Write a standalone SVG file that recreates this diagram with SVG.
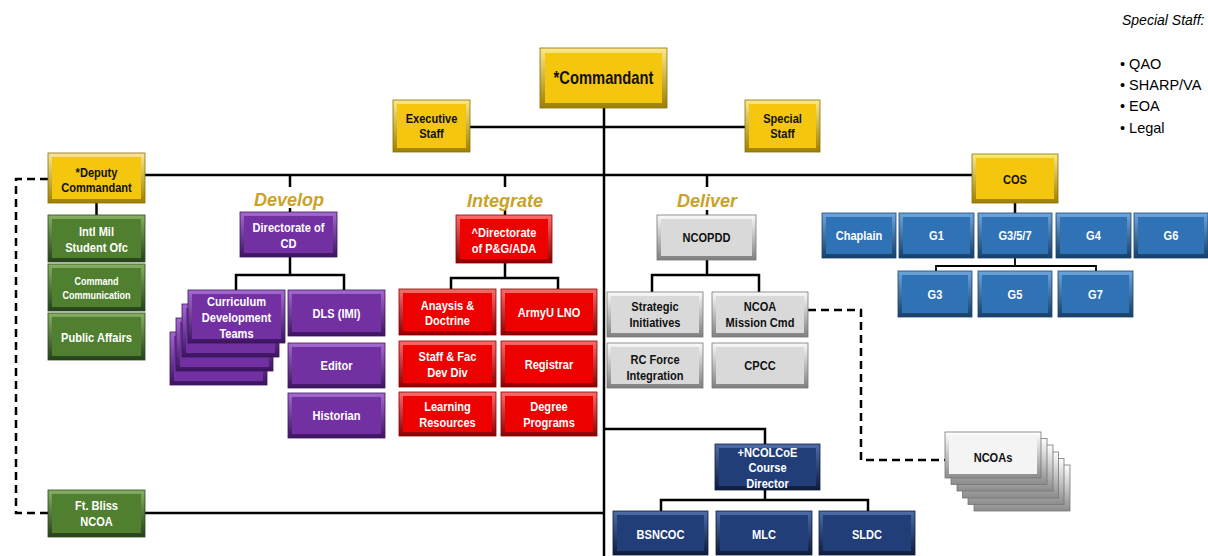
<svg xmlns="http://www.w3.org/2000/svg" width="1208" height="556" viewBox="0 0 1208 556">
<defs>
<linearGradient id="gy" x1="0" y1="0" x2="0" y2="1"><stop offset="0" stop-color="#FCE88A"/><stop offset="1" stop-color="#9E7F00"/></linearGradient>
<linearGradient id="gg" x1="0" y1="0" x2="0" y2="1"><stop offset="0" stop-color="#86B061"/><stop offset="1" stop-color="#24401A"/></linearGradient>
<linearGradient id="gp" x1="0" y1="0" x2="0" y2="1"><stop offset="0" stop-color="#A46AD0"/><stop offset="1" stop-color="#3C1460"/></linearGradient>
<linearGradient id="gr" x1="0" y1="0" x2="0" y2="1"><stop offset="0" stop-color="#FF6A6A"/><stop offset="1" stop-color="#8A0000"/></linearGradient>
<linearGradient id="gs" x1="0" y1="0" x2="0" y2="1"><stop offset="0" stop-color="#FAFAFA"/><stop offset="1" stop-color="#7F7F7F"/></linearGradient>
<linearGradient id="gb" x1="0" y1="0" x2="0" y2="1"><stop offset="0" stop-color="#6EA6DC"/><stop offset="1" stop-color="#173F68"/></linearGradient>
<linearGradient id="gn" x1="0" y1="0" x2="0" y2="1"><stop offset="0" stop-color="#4D6DAA"/><stop offset="1" stop-color="#0E1C3C"/></linearGradient>
<linearGradient id="gw" x1="0" y1="0" x2="0" y2="1"><stop offset="0" stop-color="#FFFFFF"/><stop offset="1" stop-color="#8C8C8C"/></linearGradient>
</defs>
<style>
.yo{fill:url(#gy);stroke:#8A7000;stroke-width:0.8}.yi{fill:#F4C60E}
.go{fill:url(#gg);stroke:#2B4A1C;stroke-width:0.8}.gi{fill:#4F7F2F}
.po{fill:url(#gp);stroke:#3C1460;stroke-width:0.8}.pi{fill:#7330A3}
.ro{fill:url(#gr);stroke:#8A0000;stroke-width:0.8}.ri{fill:#EE0000}
.so{fill:url(#gs);stroke:#777;stroke-width:0.8}.si{fill:#D9D9D9}
.bo{fill:url(#gb);stroke:#1B4470;stroke-width:0.8}.bi{fill:#2F72B5}
.no{fill:url(#gn);stroke:#0E1C3C;stroke-width:0.8}.ni{fill:#213E78}
.wo{fill:url(#gw);stroke:#777;stroke-width:0.8}.wi{fill:#F4F4F4}
.t{font-family:"Liberation Sans",Arial,sans-serif;font-weight:bold;font-size:13.5px;text-anchor:middle}
.w{fill:#FFFFFF}.k{fill:#111111}
.sec{font-family:"Liberation Sans",Arial,sans-serif;font-weight:bold;font-style:italic;font-size:18px;fill:#C9A227;text-anchor:middle}
.ln{fill:none;stroke:#000;stroke-width:2.5}
.ls{fill:none;stroke:#000;stroke-width:1.8}
.ds{fill:none;stroke:#000;stroke-width:2.5;stroke-dasharray:8 5}
.ss{font-family:"Liberation Sans",Arial,sans-serif;font-size:14.5px;fill:#000}
</style>

<g id="connectors">
<path class="ln" d="M604,108 V556"/>
<path class="ln" d="M470,127 H745"/>
<path class="ln" d="M145,175 H972"/>
<path class="ln" d="M96.5,203 V215"/>
<path class="ln" d="M290,175 V187 M290,208 V212"/>
<path class="ln" d="M290,257 V275 M236,290 V275 H344 V290"/>
<path class="ln" d="M505,175 V187 M505,210 V215"/>
<path class="ln" d="M505,263 V278 M451,289 V278 H558 V289"/>
<path class="ln" d="M707,175 V187 M707,210 V215"/>
<path class="ln" d="M707,260 V275 M652,292 V275 H759 V292"/>
<path class="ln" d="M1015,203 V213"/>
<path class="ls" d="M1015,258 V266 M936,271 V266 H1096 V271"/>
<path class="ln" d="M604,429 H765 V444"/>
<path class="ln" d="M765,490 V500 M661,511 V500 H868 V511"/>
<path class="ln" d="M145,513 H604"/>
<path class="ds" d="M48,179 H16 V513 H48"/>
<path class="ds" d="M808,310 H861 V460 H945"/>
</g>

<g id="commandant"><rect class="yo" x="540" y="48" width="127" height="60"/><rect class="yi" x="545" y="53" width="117" height="50"/><g transform="matrix(0.82 0 0 1 108.63 0)"><text class="t k" x="603.5" y="84.5" style="font-size:18px">*Commandant</text></g></g>
<g id="executive-staff"><rect class="yo" x="393" y="100" width="77" height="52"/><rect class="yi" x="397" y="104" width="69" height="44"/><g transform="matrix(0.82 0 0 1 77.67 0)"><text class="t k" x="431.5" y="123">Executive</text><text class="t k" x="431.5" y="138.5">Staff</text></g></g>
<g id="special-staff"><rect class="yo" x="745" y="100" width="75" height="52"/><rect class="yi" x="749" y="104" width="67" height="44"/><g transform="matrix(0.82 0 0 1 140.85 0)"><text class="t k" x="782.5" y="123">Special</text><text class="t k" x="782.5" y="138.5">Staff</text></g></g>

<g id="deputy-commandant"><rect class="yo" x="48" y="153" width="97" height="50"/><rect class="yi" x="52" y="157" width="89" height="42"/><g transform="matrix(0.82 0 0 1 17.37 0)"><text class="t k" x="96.5" y="177">*Deputy</text><text class="t k" x="96.5" y="192.5">Commandant</text></g></g>
<g id="intl-mil"><rect class="go" x="48" y="215" width="97" height="47"/><rect class="gi" x="52" y="219" width="89" height="39"/><g transform="matrix(0.82 0 0 1 17.37 0)"><text class="t w" x="96.5" y="236.5">Intl Mil</text><text class="t w" x="96.5" y="252.5">Student Ofc</text></g></g>
<g id="command-communication"><rect class="go" x="48" y="264" width="97" height="47"/><rect class="gi" x="52" y="268" width="89" height="39"/><g transform="matrix(0.82 0 0 1 17.37 0)"><text class="t w" x="96.5" y="285" style="font-size:11px">Command</text><text class="t w" x="96.5" y="299.5" style="font-size:11px">Communication</text></g></g>
<g id="public-affairs"><rect class="go" x="48" y="313" width="97" height="47"/><rect class="gi" x="52" y="317" width="89" height="39"/><g transform="matrix(0.82 0 0 1 17.37 0)"><text class="t w" x="96.5" y="342.5">Public Affairs</text></g></g>
<g id="ft-bliss"><rect class="go" x="48" y="490" width="97" height="47"/><rect class="gi" x="52" y="494" width="89" height="39"/><g transform="matrix(0.82 0 0 1 17.37 0)"><text class="t w" x="96.5" y="510.5">Ft. Bliss</text><text class="t w" x="96.5" y="526.5">NCOA</text></g></g>

<g id="develop-label"><text class="sec" x="289" y="206">Develop</text></g>
<g id="directorate-cd"><rect class="po" x="240" y="212" width="97" height="45"/><rect class="pi" x="244" y="216" width="89" height="37"/><g transform="matrix(0.82 0 0 1 51.93 0)"><text class="t w" x="288.5" y="232.5">Directorate of</text><text class="t w" x="288.5" y="248">CD</text></g></g>
<g id="curriculum-teams">
<rect class="po" x="170" y="332" width="97" height="53"/><rect class="pi" x="174" y="336" width="89" height="45"/>
<rect class="po" x="176" y="318" width="97" height="53"/><rect class="pi" x="180" y="322" width="89" height="45"/>
<rect class="po" x="182" y="304" width="97" height="53"/><rect class="pi" x="186" y="308" width="89" height="45"/>
<rect class="po" x="188" y="290" width="97" height="53"/><rect class="pi" x="192" y="294" width="89" height="45"/>
<g transform="matrix(0.82 0 0 1 42.57 0)"><text class="t w" x="236.5" y="306.5">Curriculum</text><text class="t w" x="236.5" y="322.5">Development</text><text class="t w" x="236.5" y="338.5">Teams</text></g></g>
<g id="dls"><rect class="po" x="288" y="290" width="97" height="46"/><rect class="pi" x="292" y="294" width="89" height="38"/><g transform="matrix(0.82 0 0 1 60.57 0)"><text class="t w" x="336.5" y="318">DLS (IMI)</text></g></g>
<g id="editor"><rect class="po" x="288" y="343" width="97" height="45"/><rect class="pi" x="292" y="347" width="89" height="37"/><g transform="matrix(0.82 0 0 1 60.57 0)"><text class="t w" x="336.5" y="370.5">Editor</text></g></g>
<g id="historian"><rect class="po" x="288" y="393" width="97" height="45"/><rect class="pi" x="292" y="397" width="89" height="37"/><g transform="matrix(0.82 0 0 1 60.57 0)"><text class="t w" x="336.5" y="420.5">Historian</text></g></g>

<g id="integrate-label"><text class="sec" x="505" y="207">Integrate</text></g>
<g id="directorate-pg"><rect class="ro" x="456" y="215" width="96" height="48"/><rect class="ri" x="460" y="219" width="88" height="40"/><g transform="matrix(0.82 0 0 1 90.72 0)"><text class="t w" x="504" y="237.5">^Directorate</text><text class="t w" x="504" y="253">of P&amp;G/ADA</text></g></g>
<g id="analysis-doctrine"><rect class="ro" x="399" y="289" width="97" height="46"/><rect class="ri" x="403" y="293" width="89" height="38"/><g transform="matrix(0.82 0 0 1 80.55 0)"><text class="t w" x="447.5" y="310">Anaysis &amp;</text><text class="t w" x="447.5" y="325.5">Doctrine</text></g></g>
<g id="armyu-lno"><rect class="ro" x="501" y="289" width="96" height="46"/><rect class="ri" x="505" y="293" width="88" height="38"/><g transform="matrix(0.82 0 0 1 98.82 0)"><text class="t w" x="549" y="317">ArmyU LNO</text></g></g>
<g id="staff-fac"><rect class="ro" x="399" y="341" width="97" height="46"/><rect class="ri" x="403" y="345" width="89" height="38"/><g transform="matrix(0.82 0 0 1 80.55 0)"><text class="t w" x="447.5" y="361.5">Staff &amp; Fac</text><text class="t w" x="447.5" y="377.5">Dev Div</text></g></g>
<g id="registrar"><rect class="ro" x="501" y="341" width="96" height="46"/><rect class="ri" x="505" y="345" width="88" height="38"/><g transform="matrix(0.82 0 0 1 98.82 0)"><text class="t w" x="549" y="369">Registrar</text></g></g>
<g id="learning-resources"><rect class="ro" x="399" y="392" width="97" height="44"/><rect class="ri" x="403" y="396" width="89" height="36"/><g transform="matrix(0.82 0 0 1 80.55 0)"><text class="t w" x="447.5" y="411.5">Learning</text><text class="t w" x="447.5" y="427">Resources</text></g></g>
<g id="degree-programs"><rect class="ro" x="501" y="392" width="96" height="44"/><rect class="ri" x="505" y="396" width="88" height="36"/><g transform="matrix(0.82 0 0 1 98.82 0)"><text class="t w" x="549" y="411.5">Degree</text><text class="t w" x="549" y="427">Programs</text></g></g>

<g id="deliver-label"><text class="sec" x="707" y="207">Deliver</text></g>
<g id="ncopdd"><rect class="so" x="657" y="215" width="99" height="45"/><rect class="si" x="661" y="219" width="91" height="37"/><g transform="matrix(0.82 0 0 1 127.17 0)"><text class="t k" x="706.5" y="242.5">NCOPDD</text></g></g>
<g id="strategic-initiatives"><rect class="so" x="607" y="292" width="96" height="45"/><rect class="si" x="611" y="296" width="88" height="37"/><g transform="matrix(0.82 0 0 1 117.9 0)"><text class="t k" x="655" y="311.5">Strategic</text><text class="t k" x="655" y="327.5">Initiatives</text></g></g>
<g id="ncoa-mission-cmd"><rect class="so" x="712" y="292" width="96" height="45"/><rect class="si" x="716" y="296" width="88" height="37"/><g transform="matrix(0.82 0 0 1 136.8 0)"><text class="t k" x="760" y="311.5">NCOA</text><text class="t k" x="760" y="327.5">Mission Cmd</text></g></g>
<g id="rc-force"><rect class="so" x="607" y="343" width="96" height="45"/><rect class="si" x="611" y="347" width="88" height="37"/><g transform="matrix(0.82 0 0 1 117.9 0)"><text class="t k" x="655" y="364.5">RC Force</text><text class="t k" x="655" y="380">Integration</text></g></g>
<g id="cpcc"><rect class="so" x="712" y="343" width="96" height="45"/><rect class="si" x="716" y="347" width="88" height="37"/><g transform="matrix(0.82 0 0 1 136.8 0)"><text class="t k" x="760" y="370.5">CPCC</text></g></g>

<g id="cos"><rect class="yo" x="972" y="154" width="86" height="49"/><rect class="yi" x="976" y="158" width="78" height="41"/><g transform="matrix(0.82 0 0 1 182.7 0)"><text class="t k" x="1015" y="184">COS</text></g></g>
<g id="chaplain"><rect class="bo" x="822" y="213" width="74" height="45"/><rect class="bi" x="826" y="217" width="66" height="37"/><g transform="matrix(0.82 0 0 1 154.62 0)"><text class="t w" x="859" y="240.5">Chaplain</text></g></g>
<g id="g1"><rect class="bo" x="899" y="213" width="75" height="45"/><rect class="bi" x="903" y="217" width="67" height="37"/><g transform="matrix(0.82 0 0 1 168.57 0)"><text class="t w" x="936.5" y="240.5">G1</text></g></g>
<g id="g357"><rect class="bo" x="978" y="213" width="74" height="45"/><rect class="bi" x="982" y="217" width="66" height="37"/><g transform="matrix(0.82 0 0 1 182.7 0)"><text class="t w" x="1015" y="240.5">G3/5/7</text></g></g>
<g id="g4"><rect class="bo" x="1056" y="213" width="75" height="45"/><rect class="bi" x="1060" y="217" width="67" height="37"/><g transform="matrix(0.82 0 0 1 196.83 0)"><text class="t w" x="1093.5" y="240.5">G4</text></g></g>
<g id="g6"><rect class="bo" x="1134" y="213" width="74" height="45"/><rect class="bi" x="1138" y="217" width="66" height="37"/><g transform="matrix(0.82 0 0 1 210.78 0)"><text class="t w" x="1171" y="240.5">G6</text></g></g>
<g id="g3"><rect class="bo" x="898" y="271" width="74" height="46"/><rect class="bi" x="902" y="275" width="66" height="38"/><g transform="matrix(0.82 0 0 1 168.3 0)"><text class="t w" x="935" y="299">G3</text></g></g>
<g id="g5"><rect class="bo" x="978" y="271" width="74" height="46"/><rect class="bi" x="982" y="275" width="66" height="38"/><g transform="matrix(0.82 0 0 1 182.7 0)"><text class="t w" x="1015" y="299">G5</text></g></g>
<g id="g7"><rect class="bo" x="1058" y="271" width="75" height="46"/><rect class="bi" x="1062" y="275" width="67" height="38"/><g transform="matrix(0.82 0 0 1 197.19 0)"><text class="t w" x="1095.5" y="299">G7</text></g></g>

<g id="ncolcoe"><rect class="no" x="715" y="444" width="105" height="46"/><rect class="ni" x="719" y="448" width="97" height="38"/><g transform="matrix(0.82 0 0 1 138.15 0)"><text class="t w" x="767.5" y="457">+NCOLCoE</text><text class="t w" x="767.5" y="472.5">Course</text><text class="t w" x="767.5" y="488">Director</text></g></g>
<g id="bsncoc"><rect class="no" x="613" y="511" width="95" height="44"/><rect class="ni" x="617" y="515" width="87" height="36"/><g transform="matrix(0.82 0 0 1 118.89 0)"><text class="t w" x="660.5" y="539.5">BSNCOC</text></g></g>
<g id="mlc"><rect class="no" x="716" y="511" width="96" height="44"/><rect class="ni" x="720" y="515" width="88" height="36"/><g transform="matrix(0.82 0 0 1 137.52 0)"><text class="t w" x="764" y="539.5">MLC</text></g></g>
<g id="sldc"><rect class="no" x="819" y="511" width="96" height="44"/><rect class="ni" x="823" y="515" width="88" height="36"/><g transform="matrix(0.82 0 0 1 156.06 0)"><text class="t w" x="867" y="539.5">SLDC</text></g></g>

<g id="ncoas">
<rect class="wo" x="974" y="465" width="96" height="46"/>
<rect class="wo" x="968" y="458.5" width="96" height="46"/>
<rect class="wo" x="962.5" y="452" width="96" height="46"/>
<rect class="wo" x="957" y="445" width="96" height="46"/>
<rect class="wo" x="951" y="438.5" width="96" height="46"/>
<rect class="wo" x="945" y="432" width="96" height="46"/><rect class="wi" x="949" y="436" width="88" height="38"/>
<g transform="matrix(0.82 0 0 1 178.74 0)"><text class="t k" x="993" y="462">NCOAs</text></g></g>

<g id="special-staff-list">
<text class="ss" x="1122" y="25" style="font-style:italic;font-size:14px">Special Staff:</text>
<text class="ss" x="1120" y="69">• QAO</text>
<text class="ss" x="1120" y="90">• SHARP/VA</text>
<text class="ss" x="1120" y="111">• EOA</text>
<text class="ss" x="1120" y="133">• Legal</text>
</g>
</svg>
